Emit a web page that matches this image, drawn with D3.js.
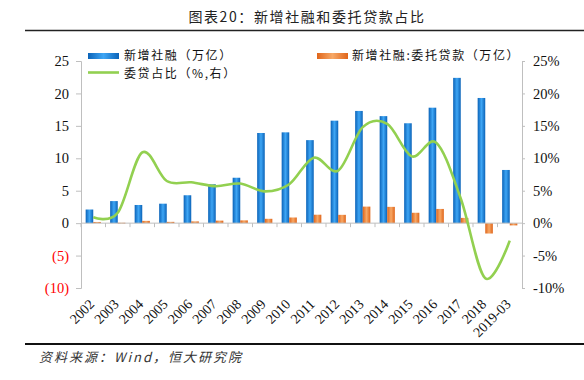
<!DOCTYPE html>
<html><head><meta charset="utf-8">
<script src="https://cdn.jsdelivr.net/npm/d3@7/dist/d3.min.js"></script>
<style>body{margin:0;background:#fff}svg{display:block}</style>
</head><body>
<svg id="c" width="584" height="380"></svg>
<script>
const categories = ["2002","2003","2004","2005","2006","2007","2008","2009","2010","2011","2012","2013","2014","2015","2016","2017","2018","2019-03"];
const tsf = [2.1,3.4,2.8,3.0,4.3,6.0,7.0,13.9,14.0,12.8,15.8,17.3,16.5,15.4,17.8,22.4,19.3,8.2];
const entrusted = [0.18,0.06,0.35,0.2,0.27,0.39,0.43,0.67,0.87,1.3,1.28,2.55,2.51,1.6,2.19,0.81,-1.6,-0.35];
const share = [0.9,1.6,10.9,6.5,6.3,5.7,6.1,4.9,6.0,10.1,8.1,14.8,15.3,10.3,12.4,3.8,-8.5,-2.7];
const leftTicks = [-10,-5,0,5,10,15,20,25];
const leftTickLabels = ["(10)","(5)","0","5","10","15","20","25"];
const rightTickLabels = ["-10%","-5%","0%","5%","10%","15%","20%","25%"];

const svg = d3.select("#c");
const L = 81, R = 522, T = 61, B = 288;
const x = d3.scaleBand().domain(categories).range([L, R]).paddingInner(0).paddingOuter(0);
const y = d3.scaleLinear().domain([-10, 25]).range([B, T]);
const y2 = d3.scaleLinear().domain([-10, 25]).range([B, T]);
const cjk = "'Noto Sans CJK SC', sans-serif";
const serif = "'Liberation Serif', 'Times New Roman', serif";

const defs = svg.append("defs");
function grad(id, edge, mid) {
  const g = defs.append("linearGradient").attr("id", id).attr("x1","0").attr("x2","1").attr("y1","0").attr("y2","0");
  g.append("stop").attr("offset","0").attr("stop-color", edge);
  g.append("stop").attr("offset","0.5").attr("stop-color", mid);
  g.append("stop").attr("offset","1").attr("stop-color", edge);
}
grad("gb", "#0b63b8", "#3ea6f5");
grad("go", "#e0651a", "#f7a866");

// title
svg.append("text").attr("x", 307).attr("y", 22).attr("text-anchor","middle")
  .style("font-family", cjk).style("font-size","14px").style("letter-spacing","1.6px")
  .attr("fill","#222").text("图表20：新增社融和委托贷款占比");
svg.append("line").attr("x1",25).attr("x2",584).attr("y1",30.5).attr("y2",30.5).attr("stroke","#222").attr("stroke-width",1.5);

const bw = x.bandwidth();
const barW = bw * 0.31;
const pad = (bw - 2 * barW) / 2;

svg.append("g").selectAll("rect").data(tsf).join("rect")
  .attr("x", (d, i) => x(categories[i]) + pad)
  .attr("width", barW)
  .attr("y", d => y(Math.max(0, d)))
  .attr("height", d => Math.abs(y(d) - y(0)))
  .attr("fill", "url(#gb)");
svg.append("g").selectAll("rect").data(entrusted).join("rect")
  .attr("x", (d, i) => x(categories[i]) + pad + barW)
  .attr("width", barW)
  .attr("y", d => y(Math.max(0, d)))
  .attr("height", d => Math.max(0.8, Math.abs(y(d) - y(0))))
  .attr("fill", "url(#go)");

const axisColor = "#bfbfbf";
const gl = svg.append("g").attr("transform", `translate(${L},0)`)
  .call(d3.axisLeft(y).tickValues(leftTicks).tickSize(5).tickFormat((d, i) => leftTickLabels[i]));
gl.select(".domain").attr("stroke", axisColor);
gl.selectAll(".tick line").attr("stroke", axisColor);
gl.selectAll(".tick text").attr("x", -12).style("font-family", serif).style("font-size","14.5px")
  .attr("fill", d => d < 0 ? "#ff0000" : "#111");

const gr = svg.append("g").attr("transform", `translate(${R},0)`)
  .call(d3.axisRight(y2).tickValues(leftTicks).tickSize(3).tickFormat((d, i) => rightTickLabels[i]));
gr.select(".domain").attr("stroke", axisColor);
gr.selectAll(".tick line").attr("stroke", axisColor);
gr.selectAll(".tick text").attr("x", 11).style("font-family", serif).style("font-size","14.5px").attr("fill","#111");

// zero axis with ticks between categories
const gx = svg.append("g").attr("transform", `translate(0,${y(0)})`)
  .call(d3.axisBottom(x).tickSize(4).tickFormat(""));
gx.select(".domain").attr("stroke", axisColor).attr("d", `M${L},0H${R}`);
gx.selectAll(".tick").attr("transform", d => `translate(${x(d)},0)`);
gx.selectAll(".tick line").attr("stroke", axisColor);

// x labels
svg.append("g").selectAll("text").data(categories).join("text")
  .attr("transform", d => `translate(${x(d) + bw / 2 + 2},${305}) rotate(-45)`)
  .attr("text-anchor","end")
  .style("font-family", serif).style("font-size","14px").attr("fill","#111")
  .text(d => d);

// line
const line = d3.line()
  .x((d, i) => x(categories[i]) + bw / 2)
  .y(d => y2(d))
  .curve(d3.curveCardinal.tension(0));
svg.append("path").datum(share).attr("d", line).attr("fill","none")
  .attr("stroke","#92d050").attr("stroke-width",2.6);

// legend
const lg = svg.append("g").style("font-family", cjk).style("font-size","12px")
  .style("letter-spacing","1.6px").attr("fill","#111");
lg.append("rect").attr("x",88).attr("y",53).attr("width",31).attr("height",6).attr("fill","url(#gb)");
lg.append("text").attr("x",124).attr("y",60).text("新增社融（万亿）");
lg.append("rect").attr("x",317).attr("y",53).attr("width",31).attr("height",6).attr("fill","url(#go)");
lg.append("text").attr("x",352).attr("y",60).text("新增社融:委托贷款（万亿）");
lg.append("line").attr("x1",88).attr("x2",119).attr("y1",72.5).attr("y2",72.5).attr("stroke","#92d050").attr("stroke-width",2.6);
lg.append("text").attr("x",124).attr("y",77.5).text("委贷占比（%,右）");

// footer
svg.append("line").attr("x1",25).attr("x2",584).attr("y1",344).attr("y2",344).attr("stroke","#111").attr("stroke-width",2);
svg.append("text").attr("x",39).attr("y",362).style("font-family", cjk).style("font-size","13px")
  .style("letter-spacing","2px").style("font-style","italic").attr("fill","#333").text("资料来源：Wind，恒大研究院");
</script>
</body></html>
